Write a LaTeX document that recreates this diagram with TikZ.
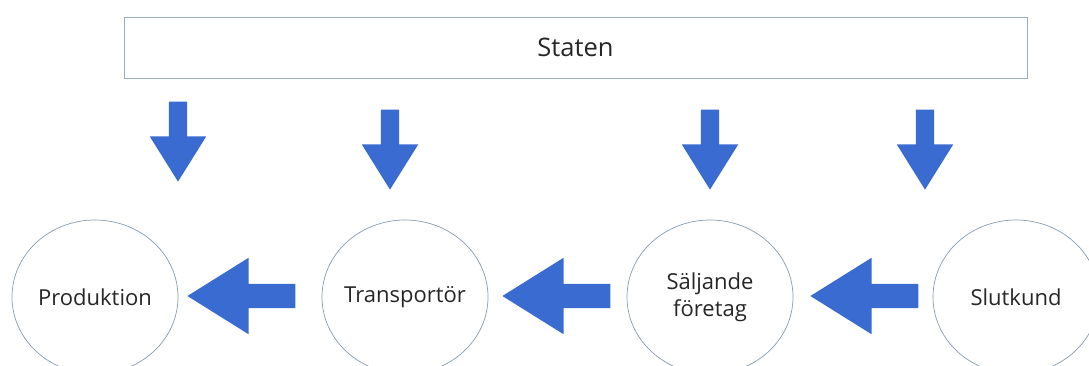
\documentclass[tikz,border=0pt]{standalone}
\usepackage{fontspec}
\setmainfont{Open Sans}
\usepackage{tikz}
\usetikzlibrary{
	arrows.meta,
	positioning,
	shapes.geometric,
	shapes.arrows,
}
\definecolor{pilblue}{RGB}{58,107,208}
\definecolor{ramgray}{RGB}{150,172,192}
\tikzset{statbox/.style={
		% The shape:
		rectangle,
		% The size:
		minimum width=903pt,minimum height=61pt,
		% The border:
		draw=ramgray,line width=0.8pt,
		% The text:
		font=\fontsize{25.5}{30}\selectfont,
}}
\tikzset{aktor/.style={
		% The shape:
		ellipse,inner sep=0pt,
		% The size:
		minimum width=166pt,minimum height=154pt,
		% The border:
		draw=ramgray!90!black,line width=0.7pt,
		% The text sits in a label, so it does not widen the ellipse
		label={[align=center,font=\fontsize{22}{27}\selectfont]center:#1},
}}
\tikzset{nedpil/.style={
		% a block arrow pointing down
		single arrow,shape border rotate=270,
		minimum height=80pt,minimum width=56pt,inner sep=9pt,
		single arrow head extend=19pt,single arrow tip angle=64,
		fill=pilblue,anchor=tip,
}}
\tikzset{vanpil/.style={
		% a block arrow pointing left
		single arrow,shape border rotate=180,
		minimum height=108pt,minimum width=76pt,inner sep=12pt,
		single arrow head extend=26pt,single arrow tip angle=64,
		fill=pilblue,anchor=tip,
}}

\begin{document}
\begin{tikzpicture}[x=1pt,y=-1pt,text=black!85]
	\useasboundingbox (0,0) rectangle (1089,365);
	\node [statbox] (staten) at (575.5,47.5) {Staten};
	%
	\node [aktor=Produktion] (produktion) at (95,297) {};
	\node [aktor=Transportör] (transportor) at (405,297) {};
	\node [aktor={Säljande\\företag}] (saljande) at (710,297) {};
	\node [aktor=Slutkund] (slutkund) at (1016,297) {};
	%
	\node [nedpil] (ned1) at (178,182) {};
	\node [nedpil] (ned2) at (390,190) {};
	\node [nedpil] (ned3) at (710,190) {};
	\node [nedpil] (ned4) at (925,190) {};
	%
	\node [vanpil] (van1) at (187,296) {};
	\node [vanpil] (van2) at (502,296) {};
	\node [vanpil] (van3) at (810,296) {};
\end{tikzpicture}
\end{document}
